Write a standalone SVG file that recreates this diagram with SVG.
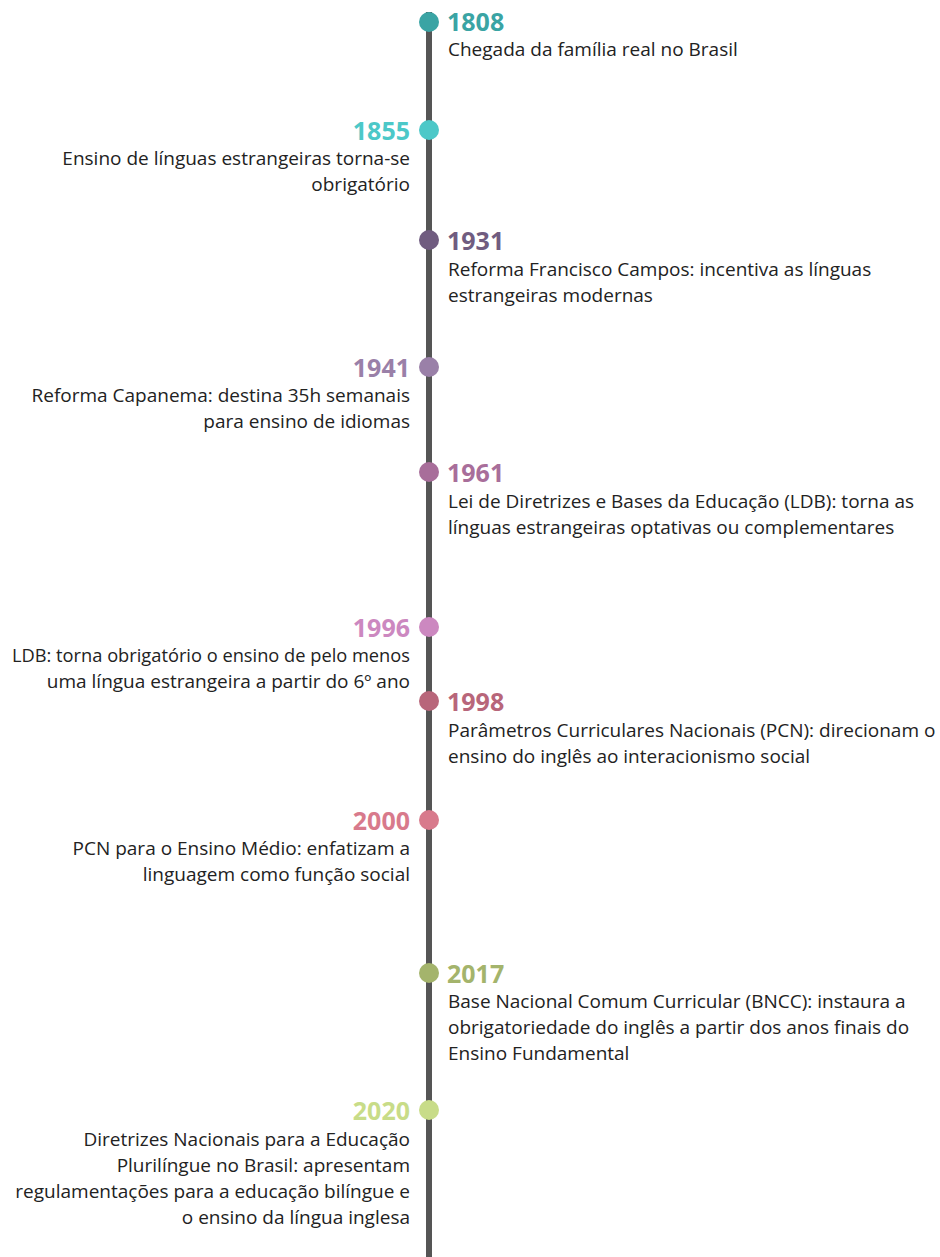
<svg xmlns="http://www.w3.org/2000/svg" width="940" height="1257" viewBox="0 0 940 1257">
<style>
.yr{font-family:"Open Sans",sans-serif;font-weight:bold;font-size:25px}
.tx{font-family:"Open Sans",sans-serif;font-size:19px;fill:#222}
.r{text-anchor:end}
</style>
<rect width="940" height="1257" fill="#fff"/>
<g id="connectors"><line x1="429" y1="12" x2="429" y2="1257" stroke="#555" stroke-width="6"/></g>
<g id="n1808"><circle cx="429" cy="22" r="10" fill="#3aa4a4"/><text class="yr" x="447" y="31" fill="#3aa4a4">1808</text><text class="tx" x="448" y="56">Chegada da família real no Brasil</text></g>
<g id="n1855"><circle cx="429" cy="130" r="10" fill="#4cc8c8"/><text class="yr r" x="410" y="140" fill="#4cc8c8">1855</text><text class="tx r" x="410" y="165">Ensino de línguas estrangeiras torna-se</text><text class="tx r" x="410" y="191">obrigatório</text></g>
<g id="n1931"><circle cx="429" cy="240" r="10" fill="#705c80"/><text class="yr" x="447" y="250" fill="#705c80">1931</text><text class="tx" x="448" y="276">Reforma Francisco Campos: incentiva as línguas</text><text class="tx" x="448" y="302">estrangeiras modernas</text></g>
<g id="n1941"><circle cx="429" cy="367" r="10" fill="#9a80a8"/><text class="yr r" x="410" y="377" fill="#9a80a8">1941</text><text class="tx r" x="410" y="402">Reforma Capanema: destina 35h semanais</text><text class="tx r" x="410" y="428">para ensino de idiomas</text></g>
<g id="n1961"><circle cx="429" cy="472" r="10" fill="#a86e9a"/><text class="yr" x="447" y="482" fill="#a86e9a">1961</text><text class="tx" x="448" y="508">Lei de Diretrizes e Bases da Educação (LDB): torna as</text><text class="tx" x="448" y="534">línguas estrangeiras optativas ou complementares</text></g>
<g id="n1996"><circle cx="429" cy="627" r="10" fill="#cc88c0"/><text class="yr r" x="410" y="637" fill="#cc88c0">1996</text><text class="tx r" x="410" y="662" textLength="398" lengthAdjust="spacingAndGlyphs">LDB: torna obrigatório o ensino de pelo menos</text><text class="tx r" x="410" y="688">uma língua estrangeira a partir do 6º ano</text></g>
<g id="n1998"><circle cx="429" cy="701" r="10" fill="#b8667a"/><text class="yr" x="447" y="711" fill="#b8667a">1998</text><text class="tx" x="448" y="737">Parâmetros Curriculares Nacionais (PCN): direcionam o</text><text class="tx" x="448" y="763">ensino do inglês ao interacionismo social</text></g>
<g id="n2000"><circle cx="429" cy="820" r="10" fill="#d87a8c"/><text class="yr r" x="410" y="830" fill="#d87a8c">2000</text><text class="tx r" x="410" y="855">PCN para o Ensino Médio: enfatizam a</text><text class="tx r" x="410" y="881">linguagem como função social</text></g>
<g id="n2017"><circle cx="429" cy="973" r="10" fill="#a4b46c"/><text class="yr" x="447" y="983" fill="#a4b46c">2017</text><text class="tx" x="448" y="1008">Base Nacional Comum Curricular (BNCC): instaura a</text><text class="tx" x="448" y="1034">obrigatoriedade do inglês a partir dos anos finais do</text><text class="tx" x="448" y="1060">Ensino Fundamental</text></g>
<g id="n2020"><circle cx="429" cy="1110" r="10" fill="#c8dc88"/><text class="yr r" x="410" y="1120" fill="#c8dc88">2020</text><text class="tx r" x="410" y="1146">Diretrizes Nacionais para a Educação</text><text class="tx r" x="410" y="1172">Plurilíngue no Brasil: apresentam</text><text class="tx r" x="410" y="1198">regulamentações para a educação bilíngue e</text><text class="tx r" x="410" y="1224">o ensino da língua inglesa</text></g>
</svg>
